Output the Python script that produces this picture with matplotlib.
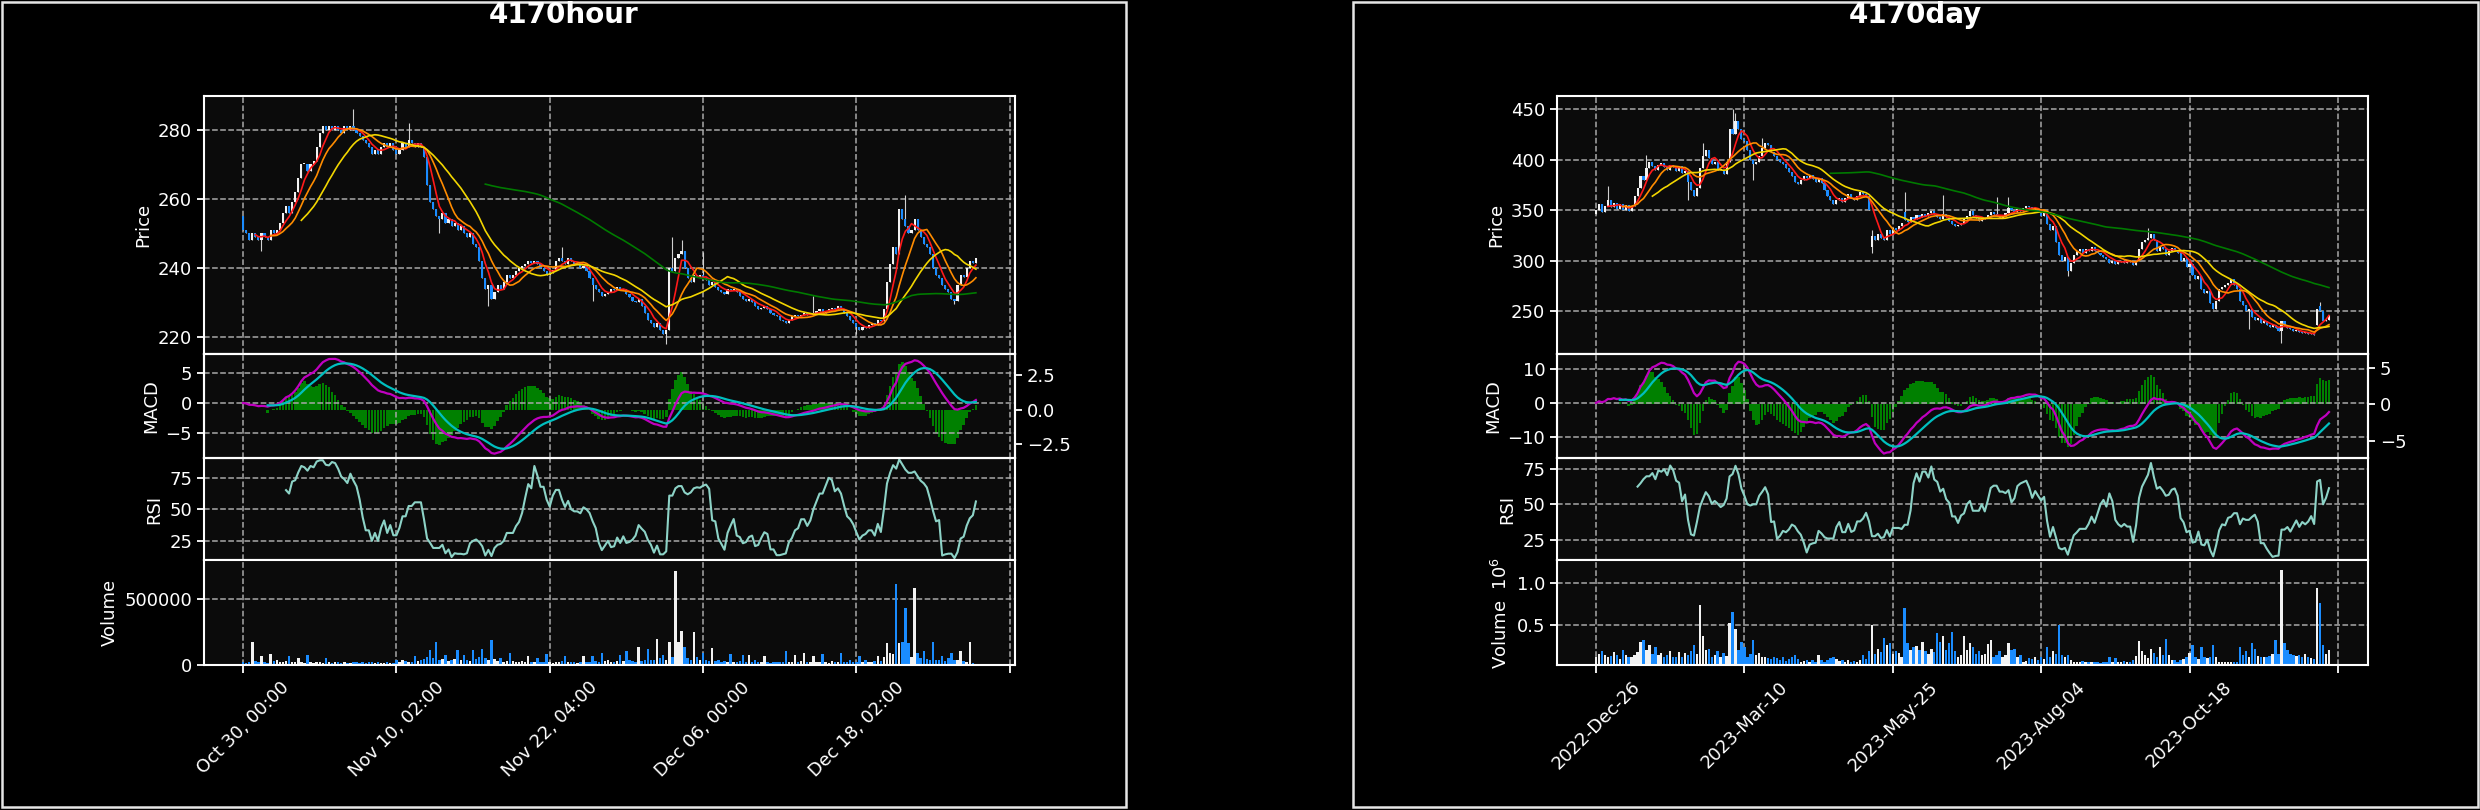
import numpy as np
import pandas as pd
import matplotlib
matplotlib.use("Agg")
import matplotlib.pyplot as plt
from matplotlib.patches import Rectangle

# ---------------- 4170 hourly bars ----------------
hour_close = [
    251, 250, 248, 250, 249, 248, 250, 249, 248, 251,
    250, 251, 253, 256, 258, 256, 259, 262, 266, 270,
    270, 268, 270, 271, 275, 279, 281, 280, 281, 280,
    281, 280, 279, 281, 280, 281, 280, 279, 278, 277,
    276, 275, 273, 274, 273, 275, 276, 275, 276, 274,
    273, 274, 276, 275, 277, 276, 275, 276, 275, 272,
    264, 259, 257, 255, 254, 256, 253, 254, 252, 253,
    251, 252, 250, 249, 250, 247, 246, 242, 237, 234,
    235, 231, 233, 235, 234, 236, 238, 237, 238, 239,
    240, 240.5, 241, 242, 241.5, 242, 241, 240, 239, 238,
    238.5, 239.5, 242, 243, 242, 241, 243, 242, 241, 241.5,
    240, 240.5, 239, 237, 235, 234, 233, 232, 232.5, 233,
    234, 233.5, 234.5, 233.5, 234, 232.5, 231.5, 230.5, 230, 231,
    229, 227, 225, 224, 223, 224, 222, 221, 222, 240,
    239, 243, 244, 245, 240, 237, 236, 238, 237.5, 238,
    237, 236.5, 235, 236, 234.5, 233.5, 233, 232.5, 234, 233.5,
    234, 233, 232, 231, 230.5, 231, 230, 229, 228, 228.5,
    229, 228, 227, 226.5, 226, 225, 224.5, 224, 225, 226,
    226.5, 226, 226.5, 227, 226.5, 226.5, 227, 227.5, 228, 227,
    227.5, 228, 228.5, 228, 229, 228, 227, 226, 225, 224,
    223, 222, 223, 222.5, 223.5, 224, 223.5, 225, 224.5, 228,
    236, 241, 246, 244, 257, 254, 252, 250, 251, 254,
    251, 249, 247, 246, 244, 240, 238, 237, 235, 234,
    233, 231, 230.5, 235, 238, 237.5, 240, 242, 241.5, 243,
]
hour_first_open = 255
hour_high = {36: 286, 54: 282, 104: 246, 140: 249, 143: 248, 150: 244.5, 186: 232, 216: 261}
hour_low = {6: 245, 64: 250, 80: 229, 114: 230.5, 138: 218, 200: 221, 232: 229.5}
hour_volume_k = [
    20, 15, 25, 177, 30, 20, 65, 25, 15, 84,
    30, 36, 25, 20, 30, 65, 25, 20, 50, 20,
    15, 73, 20, 15, 20, 25, 15, 50, 20, 15,
    20, 25, 15, 20, 18, 15, 25, 20, 15, 22,
    18, 25, 20, 15, 22, 18, 15, 20, 18, 15,
    36, 20, 36, 30, 25, 20, 65, 30, 40, 45,
    60, 112, 50, 177, 40, 45, 73, 30, 40, 45,
    112, 35, 73, 40, 30, 112, 45, 60, 120, 50,
    40, 190, 45, 30, 50, 25, 30, 93, 30, 25,
    20, 28, 20, 65, 25, 20, 50, 25, 20, 84,
    20, 15, 25, 20, 30, 65, 20, 25, 20, 15,
    25, 65, 20, 25, 65, 30, 20, 93, 30, 36,
    20, 25, 30, 79, 30, 107, 40, 30, 25, 140,
    30, 35, 120, 40, 35, 197, 50, 79, 40, 177,
    60, 716, 177, 261, 140, 50, 40, 247, 60, 40,
    93, 35, 30, 126, 30, 36, 25, 30, 20, 84,
    25, 20, 30, 73, 25, 73, 20, 36, 25, 20,
    65, 20, 15, 22, 20, 25, 20, 107, 20, 25,
    73, 20, 30, 93, 20, 25, 65, 20, 25, 84,
    20, 15, 28, 20, 25, 93, 20, 20, 36, 20,
    25, 65, 20, 36, 20, 25, 30, 65, 30, 60,
    163, 93, 80, 612, 163, 171, 430, 163, 60, 584,
    93, 50, 107, 45, 40, 177, 40, 35, 65, 30,
    50, 93, 40, 35, 107, 30, 20, 177, 15, 10,
]
hour_ticklabels = ["Oct 30, 00:00", "Nov 10, 02:00", "Nov 22, 04:00",
                   "Dec 06, 00:00", "Dec 18, 02:00", ""]

# ---------------- 4170 daily bars ----------------
day_close = [
    350, 356, 348, 354, 360, 353, 357, 351, 356, 350,
    355, 349, 354, 364, 372, 384, 380, 392, 398, 394,
    390, 395, 397, 393, 390, 395, 393, 389, 394, 387,
    389, 378, 370, 364, 372, 392, 404, 410, 402, 396,
    398, 390, 390, 386, 398, 430, 425, 438, 430, 420,
    418, 410, 400, 396, 398, 404, 412, 416, 414, 408,
    404, 400, 398, 396, 392, 388, 384, 378, 376, 380,
    384, 382, 385, 381, 378, 382, 377, 370, 364, 360,
    356, 360, 362, 358, 362, 366, 362, 360, 364, 368,
    366, 364, 350, 324, 320, 326, 322, 320, 330, 326,
    332, 330, 334, 337, 340, 338, 343, 341, 345, 343,
    346, 344, 347, 349, 346, 343, 341, 346, 343, 339,
    336, 334, 335, 337, 341, 344, 349, 345, 342, 339,
    341, 342, 345, 348, 346, 344, 342, 344, 347, 352,
    350, 348, 351, 349, 352, 354, 353, 351, 352, 348,
    344, 348, 336, 330, 334, 318, 306, 300, 304, 290,
    298, 306, 310, 312, 308, 312, 310, 314, 310, 308,
    306, 304, 302, 298, 300, 297, 299, 300, 298, 301,
    299, 296, 300, 312, 318, 320, 322, 326, 320, 310,
    314, 312, 306, 310, 313, 311, 308, 300, 303, 294,
    297, 286, 282, 285, 272, 268, 270, 258, 252, 260,
    272, 274, 276, 278, 282, 276, 272, 260, 256, 250,
    252, 244, 241, 243, 238, 240, 236, 234, 236, 233,
    230, 240, 236, 233, 232, 230, 231, 229, 228, 229,
    227, 228, 226, 252, 250, 240, 241, 246,
]
day_open_gap = {0: 346, 93: 314, 104: 348, 243: 236, 244: 255}
day_high = {4: 374, 17: 405, 36: 416, 46: 450, 47: 446, 56: 421, 93: 330,
            104: 368, 117: 365, 135: 363, 139: 363, 186: 332, 244: 259}
day_low = {31: 360, 53: 380, 93: 308, 159: 285, 220: 232, 231: 218}
day_volume_k = [
    120, 150, 188, 143, 110, 130, 178, 143, 90, 196,
    143, 110, 120, 140, 170, 300, 321, 200, 254, 150,
    232, 140, 165, 120, 143, 188, 110, 120, 178, 120,
    165, 140, 188, 254, 150, 745, 366, 200, 210, 120,
    143, 188, 110, 165, 130, 522, 656, 455, 200, 300,
    232, 120, 150, 321, 143, 165, 120, 110, 100, 90,
    120, 100, 80, 110, 70, 90, 120, 143, 90, 60,
    70, 80, 60, 75, 55, 143, 80, 60, 75, 100,
    120, 90, 70, 80, 60, 75, 55, 70, 60, 80,
    143, 90, 188, 500, 150, 210, 180, 344, 254, 277,
    150, 188, 165, 120, 700, 277, 200, 232, 241, 200,
    300, 188, 150, 210, 180, 400, 300, 366, 200, 277,
    420, 188, 120, 143, 366, 200, 277, 232, 150, 188,
    143, 150, 268, 321, 120, 143, 188, 120, 143, 285,
    200, 210, 120, 143, 60, 70, 100, 90, 110, 80,
    120, 90, 232, 120, 188, 150, 500, 143, 120, 143,
    80, 55, 60, 50, 70, 55, 60, 50, 55, 60,
    45, 55, 60, 120, 60, 100, 55, 60, 70, 50,
    60, 80, 130, 312, 188, 140, 100, 210, 165, 120,
    232, 140, 330, 143, 80, 75, 60, 75, 90, 120,
    165, 254, 120, 90, 232, 120, 100, 120, 254, 110,
    55, 50, 55, 60, 50, 55, 60, 232, 140, 188,
    120, 285, 210, 130, 120, 110, 120, 130, 150, 321,
    150, 1156, 285, 196, 150, 143, 130, 140, 110, 150,
    120, 100, 90, 946, 760, 254, 150, 196,
]
day_ticklabels = ["2022-Dec-26", "2023-Mar-10", "2023-May-25",
                  "2023-Aug-04", "2023-Oct-18", ""]

UP, DOWN, WICK = "#f2f2f2", "#1a8cff", "#d0d0d0"
MAS = [(5, "#ff1a1a"), (10, "#ff8c00"), (20, "#f2d600"), (80, "#007a00")]
W, H = 2480, 810

plt.rcParams.update({
    "font.size": 13,
    "text.color": "white",
    "axes.labelcolor": "white",
    "axes.edgecolor": "white",
    "axes.linewidth": 1.5,
    "axes.facecolor": "#0b0b0b",
    "xtick.color": "white",
    "ytick.color": "white",
    "xtick.labelsize": 13,
    "ytick.labelsize": 13,
    "ytick.major.size": 5,
    "ytick.major.width": 1.3,
    "xtick.major.size": 5,
    "xtick.major.width": 1.3,
})

fig = plt.figure(figsize=(W / 100, H / 100), dpi=100, facecolor="black")


def grid(ax):
    ax.grid(True, color="#a8a8a8", linestyle="--", linewidth=1.1)
    ax.set_axisbelow(True)


def chart(cfg):
    c = np.array(cfg["close"], dtype=float)
    n = len(c)
    x = np.arange(n)
    o = np.r_[cfg["first_open"], c[:-1]]
    for i, v in cfg.get("gaps", {}).items():
        o[i] = v
    top, bot = np.maximum(o, c), np.minimum(o, c)
    hi, lo = top.copy(), bot.copy()
    for i, v in cfg["high"].items():
        hi[i] = v
    for i, v in cfg["low"].items():
        lo[i] = v
    colors = np.where(c >= o, UP, DOWN)
    vol = np.array(cfg["volume_k"], dtype=float) * 1000

    s = pd.Series(c)
    macd = s.ewm(span=12, adjust=False).mean() - s.ewm(span=26, adjust=False).mean()
    signal = macd.ewm(span=9, adjust=False, min_periods=9).mean()
    hist = macd - signal
    d = s.diff()
    gain = d.clip(lower=0).rolling(14).mean()
    loss = (-d.clip(upper=0)).rolling(14).mean()
    rsi = 100 - 100 / (1 + gain / loss)

    left, width = cfg["left"] / W, 811 / W

    def rect(t, b):
        return [left, 1 - b / H, width, (b - t) / H]

    ax_p = fig.add_axes(rect(96, 354))
    ax_m = fig.add_axes(rect(354, 458), sharex=ax_p)
    ax_r = fig.add_axes(rect(458, 560), sharex=ax_p)
    ax_v = fig.add_axes(rect(560, 665), sharex=ax_p)

    # price
    span = cfg["price_lim"][1] - cfg["price_lim"][0]
    ax_p.vlines(x, lo, hi, color=WICK, lw=0.8, zorder=2)
    ax_p.bar(x, np.maximum(top - bot, span * 0.003), bottom=bot, width=0.7,
             color=colors, linewidth=0, zorder=3)
    for per, col in MAS:
        ax_p.plot(x, s.rolling(per).mean(), color=col, lw=1.2, zorder=4)
    ax_p.set_ylim(*cfg["price_lim"])
    ax_p.set_yticks(cfg["price_ticks"])
    ax_p.set_ylabel("Price")

    # macd + histogram on twin axis
    ax_h = ax_m.twinx()
    ax_h.bar(x, hist, width=0.85, color="#008000", linewidth=0)
    ax_h.set_ylim(*cfg["hist_lim"])
    ax_h.set_yticks(cfg["hist_ticks"])
    ax_h.set_facecolor("#0b0b0b")
    ax_h.patch.set_visible(True)
    ax_m.set_zorder(ax_h.get_zorder() + 1)
    ax_m.patch.set_visible(False)
    ax_m.plot(x, macd, color="#c000c0", lw=1.6)
    ax_m.plot(x, signal, color="#00bfbf", lw=1.6)
    ax_m.set_ylim(*cfg["macd_lim"])
    ax_m.set_yticks(cfg["macd_ticks"])
    ax_m.set_ylabel("MACD")

    # rsi
    ax_r.plot(x, rsi, color="#8dd3c7", lw=1.5)
    ax_r.set_ylim(*cfg["rsi_lim"])
    ax_r.set_yticks([25, 50, 75])
    ax_r.set_ylabel("RSI")

    # volume
    ax_v.bar(x, vol, width=0.8, color=colors, linewidth=0)
    ax_v.set_ylim(*cfg["vol_lim"])
    ax_v.set_yticks(cfg["vol_ticks"])
    ax_v.set_yticklabels(cfg["vol_ticklabels"])
    ax_v.set_ylabel(cfg["vol_label"])

    for ax in (ax_p, ax_m, ax_r, ax_v):
        grid(ax)
        ax.tick_params(axis="x", length=0, labelbottom=False)
    ax_v.set_xlim(-(0.05 * (n - 1) + 0.8), (n - 1) * 1.05 + 0.8)
    ax_v.set_xticks(np.arange(0, 251, 50))
    ax_v.set_xticklabels(cfg["ticklabels"], rotation=45, ha="center")
    ax_v.tick_params(axis="x", length=6, labelbottom=True)

    x0, x1 = cfg["frame"]
    fig.add_artist(Rectangle((x0 / W, 3 / H), (x1 - x0) / W, 805 / H,
                             transform=fig.transFigure, fill=False,
                             edgecolor="#e6e6e6", linewidth=1.8))
    fig.text((x0 + x1) / 2 / W, 1 - 23 / H, cfg["title"], ha="center",
             va="baseline", fontsize=20, fontweight="bold", color="white")


chart(dict(
    title="4170hour", left=204, frame=(2, 1126),
    close=hour_close, first_open=hour_first_open, high=hour_high, low=hour_low,
    volume_k=hour_volume_k, ticklabels=hour_ticklabels,
    price_lim=(215.1, 289.7), price_ticks=[220, 240, 260, 280],
    macd_lim=(-9.26, 8.25), macd_ticks=[-5, 0, 5],
    hist_lim=(-3.52, 4.04), hist_ticks=[-2.5, 0, 2.5],
    rsi_lim=(9.8, 90.7),
    vol_lim=(0, 796000), vol_ticks=[0, 500000], vol_ticklabels=["0", "500000"],
    vol_label="Volume",
))

chart(dict(
    title="4170day", left=1557, frame=(1353, 2478),
    close=day_close, first_open=day_open_gap[0], gaps=day_open_gap,
    high=day_high, low=day_low,
    volume_k=day_volume_k, ticklabels=day_ticklabels,
    price_lim=(207.6, 463.0), price_ticks=[250, 300, 350, 400, 450],
    macd_lim=(-16.1, 14.3), macd_ticks=[-10, 0, 10],
    hist_lim=(-7.42, 6.98), hist_ticks=[-5, 0, 5],
    rsi_lim=(10.7, 82.7),
    vol_lim=(18000, 1280000), vol_ticks=[500000, 1000000],
    vol_ticklabels=["0.5", "1.0"],
    vol_label="Volume  $10^{6}$",
))

fig.savefig("out.png", dpi=100, facecolor="black")
